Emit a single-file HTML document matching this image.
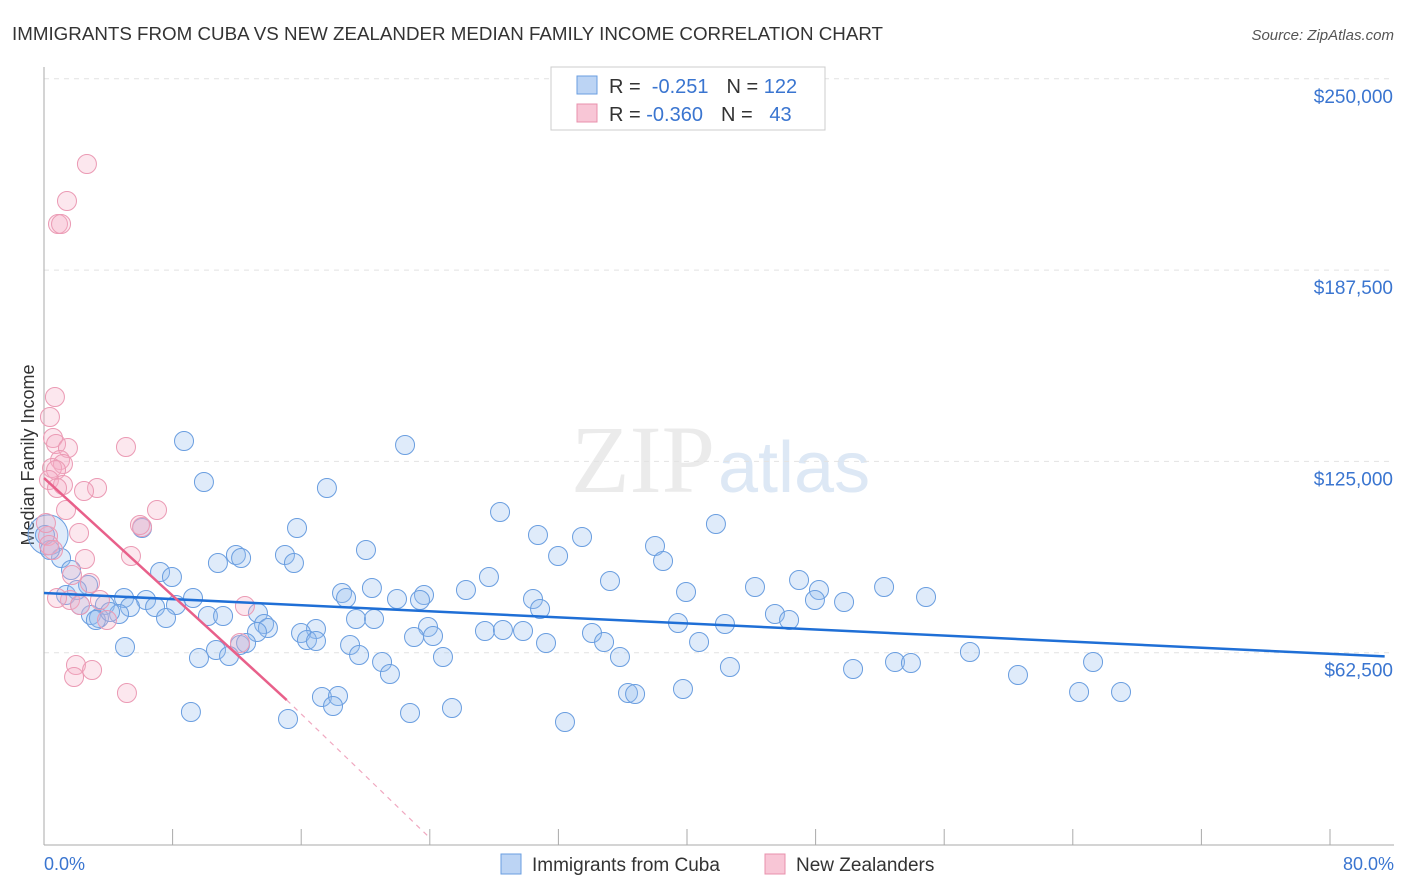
<!DOCTYPE html>
<html><head><meta charset="utf-8"><style>
body{margin:0;background:#fff;font-family:"Liberation Sans",sans-serif;}
#c{position:relative;width:1406px;height:892px;overflow:hidden}
</style></head><body>
<div id="c">
<svg id="s" width="1406" height="892" xmlns="http://www.w3.org/2000/svg">
<text x="12" y="40" font-size="18" fill="#333" textLength="871" lengthAdjust="spacingAndGlyphs">IMMIGRANTS FROM CUBA VS NEW ZEALANDER MEDIAN FAMILY INCOME CORRELATION CHART</text>
<text x="1394" y="40" font-size="15" fill="#555" font-style="italic" text-anchor="end">Source: ZipAtlas.com</text>
<text x="715" y="492" font-size="96" fill="#ebebeb" font-family="Liberation Serif,serif" text-anchor="end">ZIP</text>
<text x="718" y="492" font-size="72" fill="#dde8f5" text-anchor="start">atlas</text>
<text transform="translate(34,455) rotate(-90)" font-size="18" fill="#333" text-anchor="middle">Median Family Income</text>
<text x="44" y="870" font-size="18" fill="#3a75d0">0.0%</text>
<text x="1394" y="870" font-size="18" fill="#3a75d0" text-anchor="end">80.0%</text>
<g id="grid"></g><g id="axes"></g><g id="pts"></g><g id="lines"></g>
<g>
<rect x="551" y="67" width="274" height="63" fill="#fff" stroke="#ccc"/>
<rect x="577" y="76" width="20" height="18" fill="#bcd4f4" stroke="#6a9ee0"/>
<rect x="577" y="104" width="20" height="18" fill="#f8c6d6" stroke="#e890ac"/>
<text x="609" y="93" font-size="20" fill="#333">R = <tspan fill="#3a75d0">&#160;-0.251</tspan><tspan dx="18">N = </tspan><tspan fill="#3a75d0">122</tspan></text>
<text x="609" y="121" font-size="20" fill="#333">R = <tspan fill="#3a75d0">-0.360</tspan><tspan dx="18">N = </tspan><tspan fill="#3a75d0">&#160;&#160;43</tspan></text>
</g>
<g>
<rect x="501" y="854" width="20" height="20" fill="#bcd4f4" stroke="#6a9ee0"/>
<text x="532" y="871" font-size="19" fill="#333">Immigrants from Cuba</text>
<rect x="765" y="854" width="20" height="20" fill="#f8c6d6" stroke="#e890ac"/>
<text x="796" y="871" font-size="19" fill="#333">New Zealanders</text>
</g>
</svg>
</div>
<script>
const yTicks=[62500,125000,187500,250000];
const yTickLabels=["$62,500","$125,000","$187,500","$250,000"];
const xTicks=[0,8,16,24,32,40,48,56,64,72,80];
const bluePx=[[184,441],[405,445],[204,482],[327,488],[500,512],[716,524],[297,528],[538,535],[142,528],[582,537],[655,546],[366,550],[558,556],[236,555],[241,558],[285,555],[218,563],[294,563],[663,561],[160,572],[172,577],[489,577],[799,580],[610,581],[755,587],[884,587],[466,590],[372,588],[424,595],[342,593],[819,590],[686,592],[346,598],[397,599],[420,600],[926,597],[815,600],[844,602],[533,599],[193,598],[124,598],[146,600],[130,607],[155,607],[176,605],[105,605],[540,609],[775,614],[789,620],[258,613],[91,615],[119,614],[99,618],[166,618],[208,616],[223,616],[356,619],[374,619],[678,623],[725,624],[264,624],[268,628],[316,629],[428,627],[257,632],[301,633],[485,631],[503,630],[523,631],[592,633],[414,637],[433,636],[307,640],[316,641],[350,645],[546,643],[604,642],[699,642],[240,645],[246,643],[125,647],[216,650],[229,656],[359,655],[382,662],[443,657],[620,657],[199,658],[970,652],[1093,662],[730,667],[853,669],[895,662],[911,663],[390,674],[1018,675],[683,689],[628,693],[635,694],[1079,692],[1121,692],[322,697],[338,696],[333,706],[452,708],[191,712],[410,713],[288,719],[565,722],[61,558],[50,550],[71,570],[88,585],[66,595],[77,590],[80,605],[96,620],[110,612],[45,535]];
const pinkPx=[[87,164],[67,201],[58,224],[61,224],[55,397],[50,417],[53,438],[56,444],[68,448],[126,447],[60,460],[63,464],[52,468],[56,470],[49,480],[63,485],[57,488],[97,488],[84,491],[66,510],[157,510],[79,533],[142,527],[48,536],[49,545],[85,559],[131,556],[72,575],[90,583],[70,600],[80,605],[57,598],[245,606],[76,665],[74,677],[92,670],[127,693],[107,620],[46,523],[240,643],[53,550],[100,600],[140,525]];
const blueX=bluePx.map(p=>+((p[0]-44)*80/1286).toFixed(2));
const blueY=bluePx.map(p=>Math.round((844-p[1])*62500/191.3));
const pinkX=pinkPx.map(p=>+((p[0]-44)*80/1286).toFixed(2));
const pinkY=pinkPx.map(p=>Math.round((844-p[1])*62500/191.3));
const blueTrend=[[0,82000],[83.4,61300]];
const pinkTrend=[[0,119570],[15.1,47040]];
const pinkTrendDash=[[15.1,47040],[24,2000]];

const X=v=>44+v*1286/80, Y=v=>844-v*191.3/62500;
const NS="http://www.w3.org/2000/svg";
function mk(t,a,p){const e=document.createElementNS(NS,t);for(const k in a)e.setAttribute(k,a[k]);p.appendChild(e);return e;}
const grid=document.getElementById('grid'),axes=document.getElementById('axes'),pts=document.getElementById('pts'),lines=document.getElementById('lines');
yTicks.forEach((v,i)=>{
 const l=mk('line',{x1:44,x2:1394,y1:Y(v),y2:Y(v),stroke:'#e2e2e2','stroke-dasharray':'5,5'},grid);
 
 
 const t=mk('text',{x:1393,y:Y(v)+24,'font-size':19,fill:'#3a75d0','text-anchor':'end'},grid);
 t.textContent=yTickLabels[i];
 
 
});
const ya=mk('line',{x1:44,x2:44,y1:67,y2:845,stroke:'#aaa'},axes);


const xa=mk('line',{x1:44,x2:1394,y1:845,y2:845,stroke:'#aaa'},axes);


xTicks.forEach(v=>{const t=mk('line',{x1:X(v),x2:X(v),y1:829,y2:845,stroke:'#aaa'},axes);
 
 });
const big=mk('circle',{cx:X(0.25),cy:Y(101000),r:20,fill:'rgba(150,188,238,0.3)',stroke:'#6a9ee0','stroke-width':1},pts);


blueX.forEach((x,i)=>{const c=mk('circle',{cx:X(x),cy:Y(blueY[i]),r:9.5,fill:'rgba(150,188,238,0.3)',stroke:'#6a9ee0','stroke-width':1},pts);
 
 });
pinkX.forEach((x,i)=>{const c=mk('circle',{cx:X(x),cy:Y(pinkY[i]),r:9.5,fill:'rgba(245,175,198,0.3)',stroke:'#eb9ab4','stroke-width':1},pts);
 
 });
const bl=mk('line',{x1:X(blueTrend[0][0]),y1:Y(blueTrend[0][1]),x2:X(blueTrend[1][0]),y2:Y(blueTrend[1][1]),stroke:'#1f6fd6','stroke-width':2.5},lines);


const pl=mk('line',{x1:X(pinkTrend[0][0]),y1:Y(pinkTrend[0][1]),x2:X(pinkTrend[1][0]),y2:Y(pinkTrend[1][1]),stroke:'#e8608a','stroke-width':2.5},lines);


const pd=mk('line',{x1:X(pinkTrendDash[0][0]),y1:Y(pinkTrendDash[0][1]),x2:X(pinkTrendDash[1][0]),y2:Y(pinkTrendDash[1][1]),stroke:'#f0a8c0','stroke-width':1.2,'stroke-dasharray':'5,5'},lines);


</script>
</body></html>
